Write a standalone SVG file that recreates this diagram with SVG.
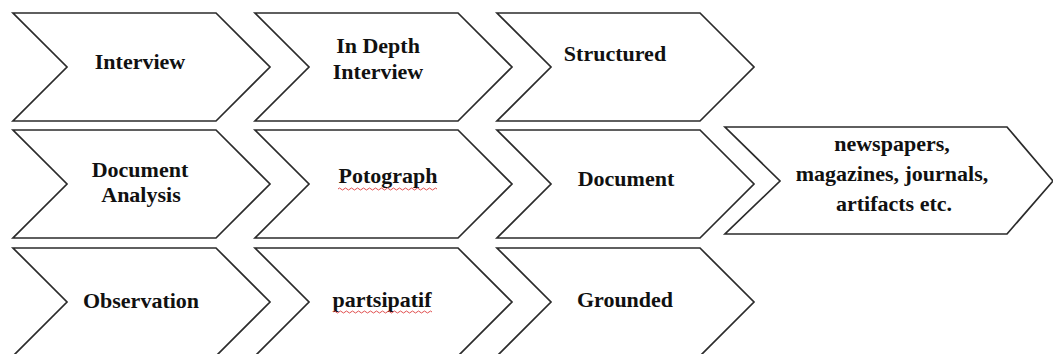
<svg xmlns="http://www.w3.org/2000/svg" width="1053" height="354" viewBox="0 0 1053 354">
<style>
.chev{fill:#ffffff;stroke:#2b2b2b;stroke-width:1.7;stroke-linejoin:miter}
.lbl{font-family:"Liberation Serif","Times New Roman",serif;font-weight:bold;font-size:22px;fill:#111;text-anchor:middle}
.sq{fill:none;stroke:#e05050;stroke-width:1}
</style>
<defs>
<path id="ch" d="M0,0 H203 L257,54 L203,108 H0 L54,54 Z"/>
</defs>
<rect width="1053" height="354" fill="#ffffff"/>
<g id="connectors"></g>
<g id="n-interview"><use href="#ch" class="chev" x="13" y="13"/><text class="lbl" x="140" y="69">Interview</text></g>
<g id="n-indepth"><use href="#ch" class="chev" x="255" y="13"/><text class="lbl" x="378" y="53">In Depth</text><text class="lbl" x="378" y="79">Interview</text></g>
<g id="n-structured"><use href="#ch" class="chev" x="497" y="13"/><text class="lbl" x="615" y="61">Structured</text></g>
<g id="n-docanalysis"><use href="#ch" class="chev" x="13" y="130"/><text class="lbl" x="140" y="177">Document</text><text class="lbl" x="141" y="202">Analysis</text></g>
<g id="n-potograph"><use href="#ch" class="chev" x="255" y="130"/><text class="lbl" x="388" y="183">Potograph</text>
<path class="sq" d="M338,189 q1.5,-2 3,0 t3,0 t3,0 t3,0 t3,0 t3,0 t3,0 t3,0 t3,0 t3,0 t3,0 t3,0 t3,0 t3,0 t3,0 t3,0 t3,0 t3,0 t3,0 t3,0 t3,0 t3,0 t3,0 t3,0 t3,0 t3,0 t3,0 t3,0 t3,0 t3,0 t3,0 t3,0 t3,0"/></g>
<g id="n-document"><use href="#ch" class="chev" x="497" y="130"/><text class="lbl" x="626" y="186">Document</text></g>
<g id="n-newspapers"><path class="chev" d="M725,127 H1007 L1053,181 L1007,234 H725 L780,181 Z"/><text class="lbl" x="892" y="151">newspapers,</text><text class="lbl" x="892" y="181">magazines, journals,</text><text class="lbl" x="894" y="211">artifacts etc.</text></g>
<g id="n-observation"><use href="#ch" class="chev" x="13" y="248"/><text class="lbl" x="141" y="308">Observation</text></g>
<g id="n-partsipatif"><use href="#ch" class="chev" x="255" y="248"/><text class="lbl" x="382" y="307">partsipatif</text>
<path class="sq" d="M333,312 q1.5,-2 3,0 t3,0 t3,0 t3,0 t3,0 t3,0 t3,0 t3,0 t3,0 t3,0 t3,0 t3,0 t3,0 t3,0 t3,0 t3,0 t3,0 t3,0 t3,0 t3,0 t3,0 t3,0 t3,0 t3,0 t3,0 t3,0 t3,0 t3,0 t3,0 t3,0 t3,0 t3,0 t3,0"/></g>
<g id="n-grounded"><use href="#ch" class="chev" x="497" y="248"/><text class="lbl" x="625" y="307">Grounded</text></g>
</svg>
